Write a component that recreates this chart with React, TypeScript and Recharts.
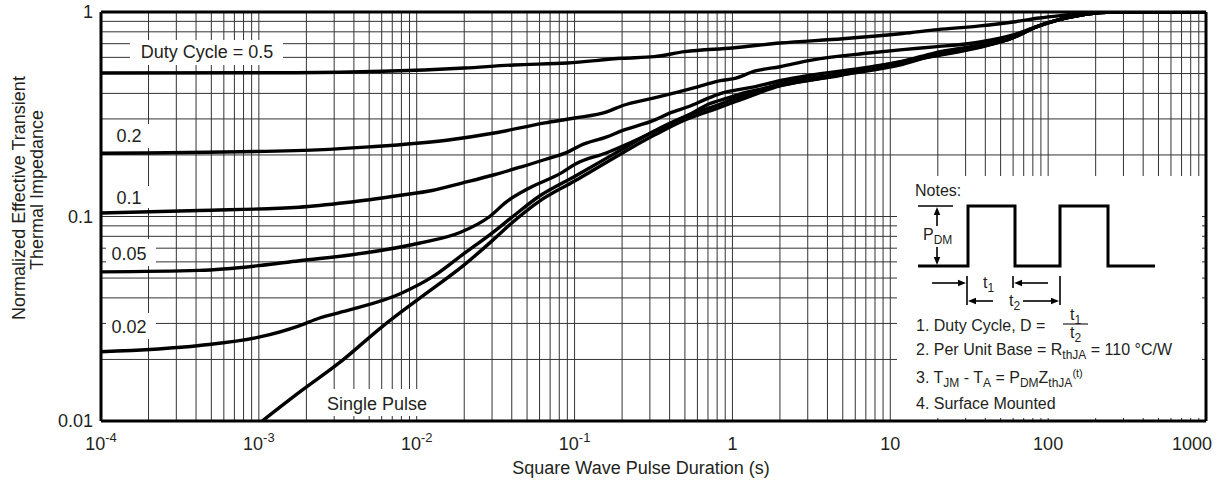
import React from 'react';
import { LineChart, Line, XAxis, YAxis, ReferenceLine } from 'recharts';

// axis ticks
const xTicks = [1e-4, 1e-3, 1e-2, 1e-1, 1, 10, 100, 1000];
const xTickBase = ['10', '10', '10', '10', '1', '10', '100', '1000'];
const xTickExp = ['-4', '-3', '-2', '-1', '', '', '', ''];
const yTicks = [0.01, 0.1, 1];
const yTickLabels = ['0.01', '0.1', '1'];

// curve values: [pulse duration (s), normalized r(t)]
const duty50 = [
  [1e-4, 0.503], [1.7e-3, 0.505], [0.02, 0.532], [0.041, 0.551], [0.09, 0.563], [0.2, 0.594],
  [0.32, 0.605], [0.5, 0.64], [1, 0.667], [2, 0.705], [5, 0.74], [12, 0.785], [20, 0.82],
  [37, 0.855], [60, 0.894], [88, 0.935], [130, 0.967], [175, 0.99], [260, 1], [1000, 1],
];
const duty20 = [
  [1e-4, 0.204], [1.7e-3, 0.21], [5e-3, 0.219], [0.0155, 0.236], [0.031, 0.256], [0.065, 0.287],
  [0.1, 0.303], [0.16, 0.325], [0.2, 0.348], [0.32, 0.38], [0.45, 0.406], [0.63, 0.435],
  [0.84, 0.462], [1.02, 0.472], [1.4, 0.515], [2, 0.54], [3.1, 0.58], [7.3, 0.63], [12, 0.655],
  [19, 0.675], [37, 0.713], [60, 0.772], [84, 0.845], [130, 0.935], [175, 0.978], [260, 1], [1000, 1],
];
const duty10 = [
  [1e-4, 0.104], [4.2e-4, 0.107], [1.8e-3, 0.111], [3.6e-3, 0.117], [7.9e-3, 0.127], [0.0125, 0.134],
  [0.0196, 0.146], [0.031, 0.16], [0.046, 0.175], [0.065, 0.19], [0.091, 0.207], [0.108, 0.222],
  [0.16, 0.245], [0.2, 0.263], [0.32, 0.296], [0.4, 0.32], [0.53, 0.345], [0.71, 0.38],
  [0.88, 0.403], [1.05, 0.415], [1.4, 0.432], [2.1, 0.465], [3.1, 0.49], [7.3, 0.538], [12, 0.575],
  [19, 0.63], [37, 0.69], [60, 0.755], [84, 0.845], [130, 0.935], [175, 0.978], [260, 1], [1000, 1],
];
const duty05 = [
  [1e-4, 0.0536], [4.2e-4, 0.0545], [1e-3, 0.0575], [1.8e-3, 0.0608], [3.8e-3, 0.0648],
  [0.0105, 0.0742], [0.0188, 0.0835], [0.029, 0.1], [0.037, 0.118], [0.051, 0.137],
  [0.082, 0.163], [0.102, 0.181], [0.16, 0.205], [0.227, 0.23], [0.357, 0.271], [0.53, 0.314],
  [0.71, 0.355], [0.94, 0.38], [1.18, 0.402], [2.1, 0.44], [4.85, 0.492], [12, 0.555], [19, 0.615],
  [37, 0.68], [60, 0.75], [84, 0.845], [130, 0.935], [175, 0.978], [260, 1], [1000, 1],
];
const duty02 = [
  [1e-4, 0.0218], [4.2e-4, 0.0234], [1e-3, 0.0257], [1.8e-3, 0.0292], [2.4e-3, 0.0318],
  [3.8e-3, 0.035], [7.8e-3, 0.0418], [0.013, 0.0515], [0.02, 0.066], [0.03, 0.083], [0.04, 0.099],
  [0.06, 0.126], [0.1, 0.157], [0.2, 0.213], [0.32, 0.262], [0.5, 0.308], [0.8, 0.35],
  [1.05, 0.378], [2, 0.445], [4.85, 0.5], [9, 0.55], [19, 0.612], [37, 0.675], [60, 0.75],
  [84, 0.845], [130, 0.935], [175, 0.978], [260, 1], [1000, 1],
];
const singlePulse = [
  [1.05e-3, 0.01], [1.8e-3, 0.0138], [3.3e-3, 0.0195], [6e-3, 0.0288], [0.0105, 0.04],
  [0.02, 0.058], [0.03, 0.076], [0.04, 0.093], [0.06, 0.119], [0.1, 0.149], [0.2, 0.204],
  [0.32, 0.25], [0.5, 0.297], [0.8, 0.338], [1.05, 0.365], [2, 0.435], [4.85, 0.49], [9, 0.545],
  [19, 0.608], [37, 0.672], [60, 0.748], [84, 0.845], [130, 0.935], [175, 0.978], [260, 1], [1000, 1],
];

const seriesList = [
  { name: 'D = 0.5', pts: duty50 },
  { name: 'D = 0.2', pts: duty20 },
  { name: 'D = 0.1', pts: duty10 },
  { name: 'D = 0.05', pts: duty05 },
  { name: 'D = 0.02', pts: duty02 },
  { name: 'Single Pulse', pts: singlePulse },
];

// log grid: 1..9 in every decade
const xGrid: number[] = [];
for (let e = -4; e < 3; e++) for (let m = 2; m <= 9; m++) xGrid.push(m * Math.pow(10, e));
for (let e = -3; e < 3; e++) xGrid.push(Math.pow(10, e));
const yGrid: number[] = [];
for (let e = -2; e < 0; e++) for (let m = 2; m <= 9; m++) yGrid.push(m * Math.pow(10, e));
yGrid.push(0.1);

const FONT = "'Liberation Sans', Arial, Helvetica, sans-serif";
const INK = '#231f20';

const XTick = (props: any) => {
  const { x, y, index } = props;
  const exp = xTickExp[index];
  // last label is pulled inside the frame, like the original
  const shift = index === xTicks.length - 1 ? -14 : 0;
  return (
    <text x={x + shift} y={y + 21} textAnchor="middle" fontSize={18} fill={INK} fontFamily={FONT}>
      <tspan>{xTickBase[index]}</tspan>
      {exp ? <tspan dy={-8} fontSize={13}>{exp}</tspan> : null}
    </text>
  );
};

const YTick = (props: any) => {
  const { x, y, index } = props;
  return (
    <text x={x} y={y} dy="0.35em" textAnchor="end" fontSize={18} fill={INK} fontFamily={FONT}>
      {yTickLabels[index]}
    </text>
  );
};

// little arrow for the notes sketch, head at (x2, y2)
const Arrow = ({ x1, y1, x2, y2 }: { x1: number; y1: number; x2: number; y2: number }) => {
  const a = Math.atan2(y2 - y1, x2 - x1);
  const len = 8;
  const w = 3.2;
  const bx = x2 - len * Math.cos(a);
  const by = y2 - len * Math.sin(a);
  const p1 = `${bx - w * Math.sin(a)},${by + w * Math.cos(a)}`;
  const p2 = `${bx + w * Math.sin(a)},${by - w * Math.cos(a)}`;
  return (
    <g>
      <line x1={x1} y1={y1} x2={bx} y2={by} stroke="#000" strokeWidth={1.6} />
      <polygon points={`${x2},${y2} ${p1} ${p2}`} fill="#000" />
    </g>
  );
};

function Annotations() {
  return (
    <svg
      width={1223}
      height={487}
      style={{ position: 'absolute', left: 0, top: 0, pointerEvents: 'none' }}
      fontFamily={FONT}
      fill={INK}
    >
      {/* axis titles */}
      <text transform="translate(25,198) rotate(-90)" textAnchor="middle" fontSize={18}>
        Normalized Effective Transient
      </text>
      <text transform="translate(43,190) rotate(-90)" textAnchor="middle" fontSize={18}>
        Thermal Impedance
      </text>
      <text x={641} y={474} textAnchor="middle" fontSize={18}>
        Square Wave Pulse Duration (s)
      </text>

      {/* curve labels */}
      <rect x={130} y={40} width={153} height={25} fill="#fff" />
      <text x={207} y={58} textAnchor="middle" fontSize={18}>Duty Cycle = 0.5</text>
      <rect x={106} y={124} width={46} height={24} fill="#fff" />
      <text x={129} y={142} textAnchor="middle" fontSize={18}>0.2</text>
      <rect x={106} y={186} width={46} height={22} fill="#fff" />
      <text x={129} y={204} textAnchor="middle" fontSize={18}>0.1</text>
      <rect x={106} y={239} width={50} height={27} fill="#fff" />
      <text x={129} y={260} textAnchor="middle" fontSize={18}>0.05</text>
      <rect x={106} y={313} width={50} height={26} fill="#fff" />
      <text x={129} y={333} textAnchor="middle" fontSize={18}>0.02</text>
      <rect x={321} y={389} width={112} height={27} fill="#fff" />
      <text x={377} y={410} textAnchor="middle" fontSize={18}>Single Pulse</text>

      {/* notes box */}
      <rect x={897} y={176} width={305} height={242} fill="#fff" />
      <text x={915} y={196} fontSize={16}>Notes:</text>
      <path
        d="M918 266 H968 V206 H1015 V266 H1060 V206 H1108 V266 H1155"
        fill="none"
        stroke="#000"
        strokeWidth={3}
      />
      <line x1={918} y1={206} x2={953} y2={206} stroke="#000" strokeWidth={1.6} />
      <Arrow x1={937} y1={226} x2={937} y2={207} />
      <Arrow x1={937} y1={247} x2={937} y2={265} />
      <text x={923} y={240} fontSize={16}>
        P<tspan dy={4} fontSize={12}>DM</tspan>
      </text>

      <Arrow x1={932} y1={283} x2={966} y2={283} />
      <line x1={967} y1={276} x2={967} y2={305} stroke="#000" strokeWidth={1.6} />
      <line x1={1013} y1={276} x2={1013} y2={288} stroke="#000" strokeWidth={1.6} />
      <Arrow x1={1048} y1={283} x2={1014} y2={283} />
      <text x={983} y={288} fontSize={16}>
        t<tspan dy={4} fontSize={12}>1</tspan>
      </text>
      <Arrow x1={993} y1={301} x2={968} y2={301} />
      <line x1={1060} y1={276} x2={1060} y2={305} stroke="#000" strokeWidth={1.6} />
      <Arrow x1={1023} y1={301} x2={1059} y2={301} />
      <text x={1009} y={306} fontSize={16}>
        t<tspan dy={4} fontSize={12}>2</tspan>
      </text>

      <text x={916} y={331} fontSize={16}>1. Duty Cycle, D =</text>
      <text x={1070} y={320} fontSize={16}>
        t<tspan dy={4} fontSize={12}>1</tspan>
      </text>
      <line x1={1063} y1={324} x2={1088} y2={324} stroke={INK} strokeWidth={1.2} />
      <text x={1070} y={338} fontSize={16}>
        t<tspan dy={4} fontSize={12}>2</tspan>
      </text>
      <text x={916} y={355} fontSize={16}>
        2. Per Unit Base = R<tspan dy={4} fontSize={12}>thJA</tspan>
        <tspan dy={-4}> = 110 °C/W</tspan>
      </text>
      <text x={916} y={383} fontSize={16}>
        3. T<tspan dy={4} fontSize={12}>JM</tspan>
        <tspan dy={-4}> - T</tspan>
        <tspan dy={4} fontSize={12}>A</tspan>
        <tspan dy={-4}> = P</tspan>
        <tspan dy={4} fontSize={12}>DM</tspan>
        <tspan dy={-4}>Z</tspan>
        <tspan dy={4} fontSize={12}>thJA</tspan>
        <tspan dy={-10} fontSize={11}>(t)</tspan>
      </text>
      <text x={916} y={409} fontSize={16}>4. Surface Mounted</text>
    </svg>
  );
}

export default function App() {
  return (
    <div
      style={{
        position: 'absolute',
        left: 0,
        top: 0,
        width: 1223,
        height: 487,
        background: '#fff',
        fontFamily: FONT,
      }}
    >
      <LineChart width={1223} height={487} margin={{ top: 12, right: 17, bottom: 0, left: 0 }}>
        <XAxis
          dataKey="x"
          type="number"
          scale="log"
          domain={[1e-4, 1000]}
          ticks={xTicks}
          interval={0}
          tick={<XTick />}
          tickLine={false}
          axisLine={false}
          height={66}
          allowDataOverflow
        />
        <YAxis
          dataKey="y"
          type="number"
          scale="log"
          domain={[0.01, 1]}
          ticks={yTicks}
          interval={0}
          tick={<YTick />}
          tickLine={false}
          axisLine={false}
          width={101}
          allowDataOverflow
        />
        {xGrid.map((v) => (
          <ReferenceLine key={'gx' + v} x={v} stroke="#333" strokeWidth={1} />
        ))}
        {yGrid.map((v) => (
          <ReferenceLine key={'gy' + v} y={v} stroke="#333" strokeWidth={1} />
        ))}
        {seriesList.map((s) => (
          <Line
            key={s.name}
            name={s.name}
            data={s.pts.map(([x, y]) => ({ x, y }))}
            dataKey="y"
            type="monotone"
            stroke="#000"
            strokeWidth={3.4}
            dot={false}
            activeDot={false}
            isAnimationActive={false}
          />
        ))}
        <ReferenceLine x={1e-4} stroke="#000" strokeWidth={3} />
        <ReferenceLine x={1000} stroke="#000" strokeWidth={3} />
        <ReferenceLine y={0.01} stroke="#000" strokeWidth={3} />
        <ReferenceLine y={1} stroke="#000" strokeWidth={3} />
      </LineChart>
      <Annotations />
    </div>
  );
}
